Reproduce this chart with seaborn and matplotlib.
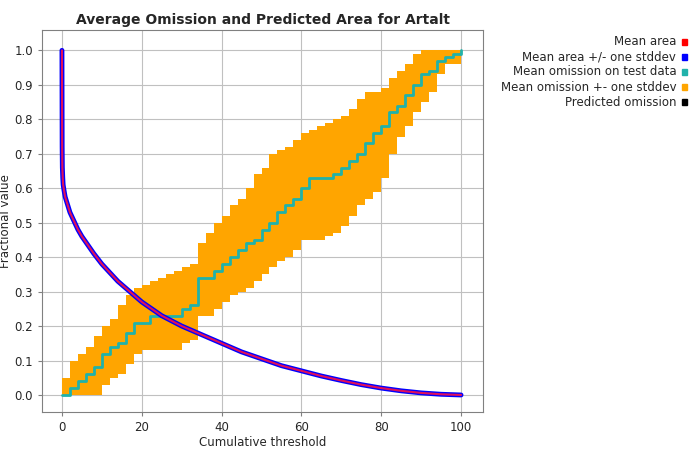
import numpy as np
import matplotlib
matplotlib.use("Agg")
import matplotlib.pyplot as plt
import seaborn as sns

# thresholds for omission curves
thr = [0, 2, 4, 6, 8, 10, 12, 14, 16, 18, 20, 22, 24, 26, 28, 30, 32, 34, 36, 38, 40,
       42, 44, 46, 48, 50, 52, 54, 56, 58, 60, 62, 64, 66, 68, 70, 72, 74, 76, 78, 80,
       82, 84, 86, 88, 90, 92, 94, 96, 98, 100]
omission = [0, 0.02, 0.04, 0.06, 0.08, 0.12, 0.14, 0.15, 0.18, 0.21, 0.21, 0.23, 0.23, 0.23,
            0.23, 0.25, 0.26, 0.34, 0.34, 0.36, 0.38, 0.40, 0.42, 0.44, 0.45, 0.48, 0.50,
            0.53, 0.55, 0.57, 0.60, 0.63, 0.63, 0.63, 0.64, 0.66, 0.68, 0.70, 0.73, 0.76,
            0.78, 0.82, 0.84, 0.87, 0.90, 0.93, 0.94, 0.97, 0.98, 0.99, 1.0]
om_upper = [0.05, 0.1, 0.12, 0.14, 0.17, 0.2, 0.22, 0.26, 0.29, 0.31, 0.32, 0.33, 0.34, 0.35,
            0.36, 0.37, 0.38, 0.44, 0.47, 0.50, 0.52, 0.55, 0.57, 0.60, 0.64, 0.66, 0.70,
            0.71, 0.72, 0.74, 0.76, 0.77, 0.78, 0.79, 0.80, 0.81, 0.83, 0.86, 0.88, 0.88,
            0.89, 0.92, 0.94, 0.96, 0.99, 1.0, 1.0, 1.0, 1.0, 1.0, 1.0]
om_lower = [0, 0, 0, 0, 0, 0.03, 0.05, 0.06, 0.09, 0.12, 0.13, 0.13, 0.13, 0.13, 0.13, 0.15,
            0.16, 0.23, 0.23, 0.25, 0.27, 0.29, 0.30, 0.31, 0.33, 0.35, 0.37, 0.39, 0.40,
            0.42, 0.45, 0.45, 0.45, 0.46, 0.47, 0.49, 0.52, 0.55, 0.57, 0.59, 0.63, 0.70,
            0.75, 0.78, 0.82, 0.85, 0.88, 0.93, 0.96, 0.96, 0.98]

# predicted area
area_x = [0, 0.05, 0.1, 0.2, 0.3, 0.5, 0.8, 1.2, 2, 3, 4, 5, 6.5, 8, 10, 12, 14, 16, 20,
          25, 30, 35, 40, 45, 50, 55, 60, 65, 70, 75, 80, 85, 90, 95, 100]
area = [1.0, 0.72, 0.66, 0.63, 0.61, 0.595, 0.575, 0.56, 0.53, 0.505, 0.48, 0.46, 0.435,
        0.41, 0.38, 0.355, 0.33, 0.31, 0.27, 0.23, 0.2, 0.175, 0.15, 0.125, 0.105, 0.085,
        0.07, 0.055, 0.042, 0.03, 0.02, 0.012, 0.006, 0.002, 0]

legend_labels = ["Mean area", "Mean area +/- one stddev", "Mean omission on test data",
                 "Mean omission +- one stddev", "Predicted omission"]
legend_colors = ["#ff0000", "#0000ff", "#20b2aa", "#ffa500", "#000000"]

sns.set_style("whitegrid", {"grid.color": "#c0c0c0", "axes.edgecolor": "#808080"})
plt.rcParams['font.family'] = ['DejaVu Sans']

fig = plt.figure(figsize=(7, 4.5), dpi=100)
ax = fig.add_axes([0.06, 0.084, 0.63, 0.85])

ax.fill_between(thr, om_lower, om_upper, step="post", color="#ffa500", linewidth=0)
ax.step(thr, omission, where="post", color="#20b2aa", linewidth=2)
ax.plot(area_x, area, color="#0000ff", linewidth=3.5)
ax.plot(area_x, area, color="#e0105a", linewidth=1.5)

ax.set_xlim(-5, 105.5)
ax.set_ylim(-0.05, 1.06)
ax.set_xticks([0, 20, 40, 60, 80, 100])
ax.set_yticks(np.arange(0, 1.01, 0.1))
ax.set_yticklabels([f"{v:.1f}" for v in np.arange(0, 1.01, 0.1)])
ax.tick_params(labelsize=8.5, length=3, left=True, bottom=True, color="#808080")
ax.set_xlabel("Cumulative threshold", fontsize=8.5, labelpad=1)
ax.set_ylabel("Fractional value", fontsize=8.5, labelpad=2)
ax.set_title("Average Omission and Predicted Area for Artalt", fontsize=10,
             fontweight="bold", pad=4)

for i, (lab, col) in enumerate(zip(legend_labels, legend_colors)):
    yy = 0.907 - i * 0.0335
    fig.text(0.966, yy, lab, ha="right", va="center", fontsize=8.5)
    fig.patches.append(plt.Rectangle((0.974, yy - 0.006), 0.008, 0.012,
                                     transform=fig.transFigure, color=col))

fig.savefig("out.png", dpi=100)
